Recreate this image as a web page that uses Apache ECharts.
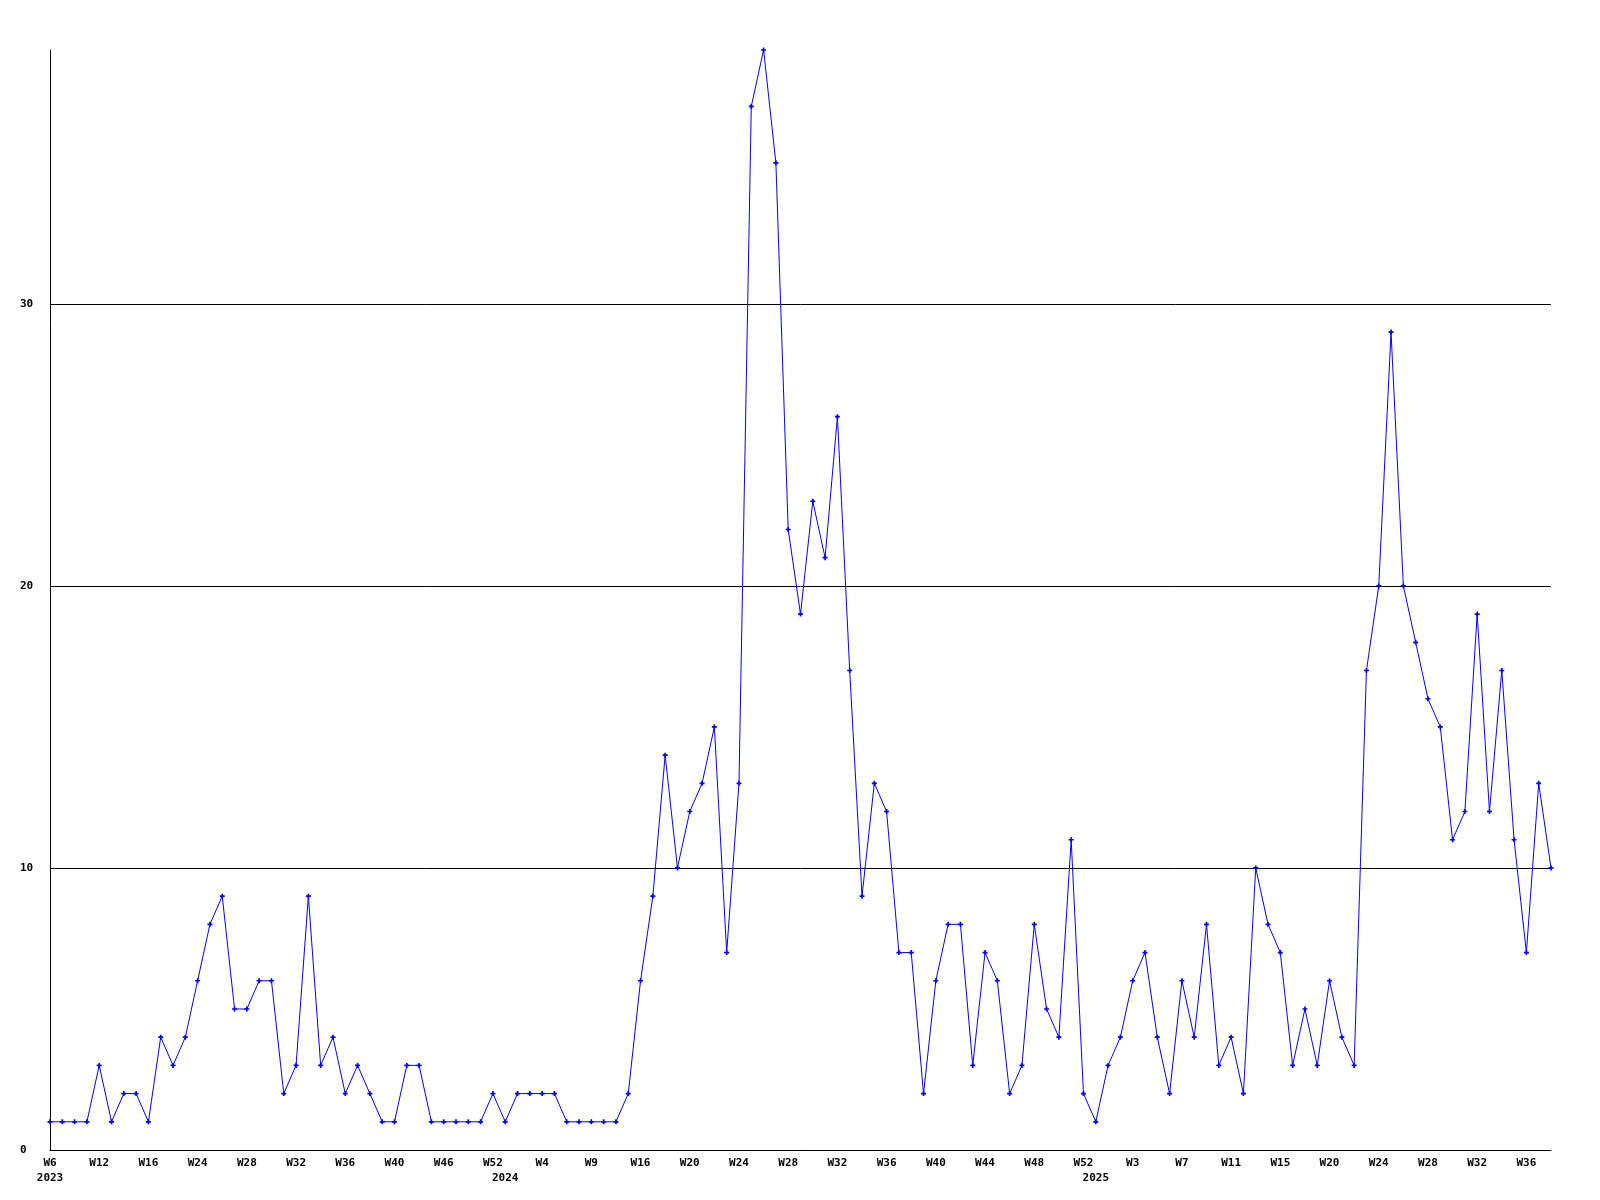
<!DOCTYPE html>
<html>
<head>
<meta charset="utf-8">
<script src="https://cdn.jsdelivr.net/npm/echarts@6/dist/echarts.min.js"></script>
<style>html,body{margin:0;padding:0;background:#fff}#c{width:1600px;height:1200px}</style>
</head>
<body>
<div id="c"></div>
<script>
// Week categories (2023 → 2025)
const weeks = [
  'W6','W7','W9','W10','W12','W13','W14','W15','W16','W18','W20','W22','W24','W25','W26','W27',
  'W28','W29','W30','W31','W32','W33','W34','W35','W36','W37','W38','W39','W40','W41','W43','W44',
  'W46','W47','W49','W50','W52',
  'W1','W2','W3','W4','W5','W6','W8','W9','W11','W13','W15','W16','W17','W18','W19',
  'W20','W21','W22','W23','W24','W25','W26','W27','W28','W29','W30','W31','W32','W33','W34','W35',
  'W36','W37','W38','W39','W40','W41','W42','W43','W44','W45','W46','W47','W48','W49','W50','W51','W52',
  'W0','W1','W2','W3','W4','W5','W6','W7','W8','W9','W10','W11','W12','W13','W14','W15','W16','W17','W18',
  'W20','W21','W22','W23','W24','W25','W26','W27','W28','W29','W30','W31','W32','W33','W34','W35',
  'W36','W37','W38'
];
// Year labels placed at the first point of each year
const yearStartIndex = [0, 37, 85];
const yearLabels = ['2023', '2024', '2025'];
// Weekly counts
const counts = [
  1,1,1,1,3,1,2,2,1,4,3,4,6,8,9,5,
  5,6,6,2,3,9,3,4,2,3,2,1,1,3,3,1,
  1,1,1,1,2,
  1,2,2,2,2,1,1,1,1,1,2,6,9,14,10,
  12,13,15,7,13,37,39,35,22,19,23,21,26,17,9,13,
  12,7,7,2,6,8,8,3,7,6,2,3,8,5,4,11,2,
  1,3,4,6,7,4,2,6,4,8,3,4,2,10,8,7,3,5,3,
  6,4,3,17,20,29,20,18,16,15,11,12,19,12,17,11,
  7,13,10
];
const yTicks = [0, 10, 20, 30];

const fontFamily = '"DejaVu Sans Mono", "Liberation Mono", monospace';
const chart = echarts.init(document.getElementById('c'), null, {renderer: 'canvas'});
chart.setOption({
  animation: false,
  backgroundColor: '#ffffff',
  grid: {left: 50, right: 49, top: 50, bottom: 50, containLabel: false},
  xAxis: [
    {
      type: 'category',
      data: weeks,
      boundaryGap: false,
      position: 'bottom',
      axisLine: {show: true, lineStyle: {color: '#000', width: 1}},
      axisTick: {show: false},
      splitLine: {show: false},
      axisLabel: {
        interval: 3,
        margin: 8,
        color: '#000',
        fontFamily: fontFamily,
        fontWeight: 'bold',
        fontSize: 11,
        hideOverlap: false
      }
    },
    {
      type: 'category',
      data: weeks,
      boundaryGap: false,
      position: 'bottom',
      offset: 15,
      axisLine: {show: false},
      axisTick: {show: false},
      splitLine: {show: false},
      axisLabel: {
        interval: function (idx) { return yearStartIndex.indexOf(idx) >= 0; },
        formatter: function (v, idx) {
          const k = yearStartIndex.indexOf(idx);
          return k >= 0 ? yearLabels[k] : '';
        },
        margin: 8,
        color: '#000',
        fontFamily: fontFamily,
        fontWeight: 'bold',
        fontSize: 11,
        hideOverlap: false
      }
    }
  ],
  yAxis: {
    type: 'value',
    min: 0,
    max: 39,
    interval: 10,
    axisLine: {show: true, lineStyle: {color: '#000', width: 1}},
    axisTick: {show: false},
    splitLine: {show: true, showMaxLine: false, lineStyle: {color: '#000', width: 1}},
    axisLabel: {
      margin: 30,
      align: 'left',
      color: '#000',
      fontFamily: fontFamily,
      fontWeight: 'bold',
      fontSize: 11,
      showMaxLabel: false,
      formatter: function (v) { return yTicks.indexOf(v) >= 0 ? String(v) : ''; }
    }
  },
  series: [{
    type: 'line',
    xAxisIndex: 0,
    data: counts,
    symbol: 'path://M2 0h2v2h2v2h-2v2h-2v-2h-2v-2h2z',
    symbolSize: 5,
    showAllSymbol: true,
    lineStyle: {color: '#0000ff', width: 1},
    itemStyle: {color: '#0000ff'},
    emphasis: {disabled: true}
  }]
});
</script>
</body>
</html>
